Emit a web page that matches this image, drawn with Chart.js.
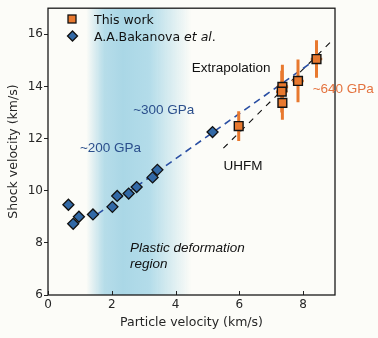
<!DOCTYPE html>
<html><head><meta charset="utf-8">
<script src="https://cdn.jsdelivr.net/npm/chart.js@4/dist/chart.umd.min.js"></script>
<style>html,body{margin:0;padding:0;background:#fcfcf8;}#wrap{width:378px;height:338px;}</style>
</head><body><div id="wrap"><canvas id="c" width="378" height="338"></canvas></div>
<script>
// ---- data ----
const thisWorkUp   = [5.98, 7.35, 7.33, 7.35, 7.84, 8.42];
const thisWorkUs   = [12.48, 13.98, 13.80, 13.37, 14.21, 15.05];
const thisWorkUsErr= [0.57, 0.85, 0.80, 0.65, 0.82, 0.72];
const thisWorkUpErr= [0.10, 0.18, 0.18, 0.12, 0.18, 0.18];
const bakanovaUp = [0.64, 0.79, 0.97, 1.41, 2.02, 2.17, 2.53, 2.78, 3.28, 3.43, 5.16];
const bakanovaUs = [9.46, 8.73, 9.00, 9.09, 9.38, 9.80, 9.89, 10.14, 10.51, 10.80, 12.25];
const fitUp = [1.55, 8.30];
const fitUs = [9.10, 14.95];
const uhfmUp = [5.50, 8.90];
const uhfmUs = [11.63, 15.75];
const shadeFrom = 1.2, shadeTo = 4.5;
const xTicks = [0, 2, 4, 6, 8];
const yTicks = [6, 8, 10, 12, 14, 16];
const labels = [
  {t:'~300 GPa', x:2.67, y:12.95, c:'#2b4f8c'},
  {t:'~200 GPa', x:1.00, y:11.49, c:'#2b4f8c'},
  {t:'Extrapolation', x:4.51, y:14.57, c:'#111'},
  {t:'~640 GPa', x:8.30, y:13.74, c:'#e4733f'},
  {t:'UHFM', x:5.50, y:10.80, c:'#111'},
  {t:'Plastic deformation', x:2.57, y:7.65, c:'#111', it:true},
  {t:'region', x:2.57, y:7.05, c:'#111', it:true}
];

const ORANGE = '#e8792f';
const BLUE = '#3269a6';
const DJ = "'DejaVu Sans', sans-serif";
const LS = "'Liberation Sans', Arial, sans-serif";

const pts = (xs, ys) => xs.map((x, i) => ({x: x, y: ys[i]}));

const datasets = [
  {label:'A.A.Bakanova et al.', data: pts(bakanovaUp, bakanovaUs), pointStyle:'rectRot', pointRadius:5.5,
   backgroundColor: BLUE, borderColor:'#111', pointBorderWidth:1.3, showLine:false},
  {label:'This work', data: pts(thisWorkUp, thisWorkUs), pointStyle:'rect', pointRadius:6.2,
   backgroundColor: ORANGE, borderColor:'#111', pointBorderWidth:1.4, showLine:false},
];
thisWorkUp.forEach((x, i) => {
  datasets.push({data:[{x:x, y:thisWorkUs[i]-thisWorkUsErr[i]},{x:x, y:thisWorkUs[i]+thisWorkUsErr[i]}],
    showLine:true, borderColor:ORANGE, borderWidth:3, pointRadius:0, borderCapStyle:'butt'});
  datasets.push({data:[{x:x-thisWorkUpErr[i], y:thisWorkUs[i]},{x:x+thisWorkUpErr[i], y:thisWorkUs[i]}],
    showLine:true, borderColor:ORANGE, borderWidth:2.5, pointRadius:0, borderCapStyle:'butt'});
});
datasets.push({data: pts(fitUp, fitUs), showLine:true, borderColor:'#2a4fa3', borderWidth:1.6,
  borderDash:[7,5], pointRadius:0});
datasets.push({data: pts(uhfmUp, uhfmUs), showLine:true, borderColor:'#111', borderWidth:1.1,
  borderDash:[6,6], pointRadius:0});

const shadePlugin = {
  id:'shade',
  beforeDatasetsDraw(chart){
    const {ctx, chartArea:a, scales:{x}} = chart;
    const x0 = x.getPixelForValue(shadeFrom), x1 = x.getPixelForValue(shadeTo);
    const g = ctx.createLinearGradient(x0, 0, x1, 0);
    g.addColorStop(0, 'rgba(170,215,230,0)');
    g.addColorStop(0.17, 'rgba(170,215,230,0.85)');
    g.addColorStop(0.35, 'rgba(170,215,230,1)');
    g.addColorStop(0.6, 'rgba(175,218,232,0.95)');
    g.addColorStop(1, 'rgba(180,220,232,0)');
    ctx.save();
    ctx.fillStyle = g;
    ctx.fillRect(x0, a.top, x1 - x0, a.bottom - a.top);
    ctx.restore();
  }
};

const decorPlugin = {
  id:'decor',
  afterDraw(chart){
    const {ctx, chartArea:a, scales:{x, y}} = chart;
    ctx.save();
    // inward x ticks
    ctx.strokeStyle = '#222'; ctx.lineWidth = 1;
    xTicks.forEach(v => {
      const px = Math.round(x.getPixelForValue(v)) + 0.5;
      ctx.beginPath(); ctx.moveTo(px, a.bottom); ctx.lineTo(px, a.bottom - 4); ctx.stroke();
    });
    // frame
    ctx.lineWidth = 1.3; ctx.strokeStyle = '#1a1a1a';
    ctx.strokeRect(a.left, a.top, a.right - a.left, a.bottom - a.top);
    // annotations
    ctx.textBaseline = 'alphabetic'; ctx.textAlign = 'left';
    labels.forEach(l => {
      ctx.font = (l.it ? 'italic ' : '') + '13.5px ' + LS;
      ctx.fillStyle = l.c;
      ctx.fillText(l.t, x.getPixelForValue(l.x), y.getPixelForValue(l.y));
    });
    // legend
    ctx.font = '12.5px ' + DJ; ctx.fillStyle = '#111';
    ctx.fillStyle = ORANGE; ctx.strokeStyle = '#111'; ctx.lineWidth = 1.3;
    ctx.fillRect(68, 15, 8, 8); ctx.strokeRect(68, 15, 8, 8);
    ctx.beginPath(); ctx.moveTo(72.5, 31); ctx.lineTo(77.5, 36); ctx.lineTo(72.5, 41); ctx.lineTo(67.5, 36); ctx.closePath();
    ctx.fillStyle = BLUE; ctx.fill(); ctx.stroke();
    ctx.fillStyle = '#111';
    ctx.fillText('This work', 94, 23.5);
    let tx = 94;
    ctx.fillText('A.A.Bakanova ', tx, 40.5); tx += ctx.measureText('A.A.Bakanova ').width;
    ctx.font = 'italic 12.5px ' + DJ;
    ctx.fillText('et al', tx, 40.5); tx += ctx.measureText('et al').width;
    ctx.font = '12.5px ' + DJ;
    ctx.fillText('.', tx, 40.5);
    ctx.restore();
  }
};

new Chart(document.getElementById('c'), {
  type:'scatter',
  data:{datasets},
  options:{
    responsive:false, animation:false, devicePixelRatio:1,
    layout:{padding:{top:3, right:43, bottom:0, left:0}},
    plugins:{legend:{display:false}, tooltip:{enabled:false}},
    scales:{
      x:{type:'linear', min:0, max:9,
        afterBuildTicks: s => { s.ticks = xTicks.map(v => ({value:v})); },
        afterFit: s => { s.height = 43; },
        ticks:{font:{family:DJ, size:12}, color:'#262626', padding:3, maxRotation:0},
        grid:{display:true, drawOnChartArea:false, drawTicks:false},
        border:{display:false},
        title:{display:true, text:'Particle velocity (km/s)', font:{family:DJ, size:12.5}, color:'#262626', padding:{top:8, bottom:8}}
      },
      y:{type:'linear', min:6, max:17,
        afterBuildTicks: s => { s.ticks = yTicks.map(v => ({value:v})); },
        afterFit: s => { s.width = 48; },
        ticks:{font:{family:DJ, size:12}, color:'#262626', padding:1},
        grid:{display:true, drawOnChartArea:false, drawTicks:true, tickLength:4, tickColor:'#222', tickWidth:1},
        border:{display:false},
        title:{display:true, text:'Shock velocity (km/s)', font:{family:DJ, size:12.5}, color:'#262626', padding:{top:6, bottom:6}}
      }
    }
  },
  plugins:[shadePlugin, decorPlugin]
});
</script></body></html>
